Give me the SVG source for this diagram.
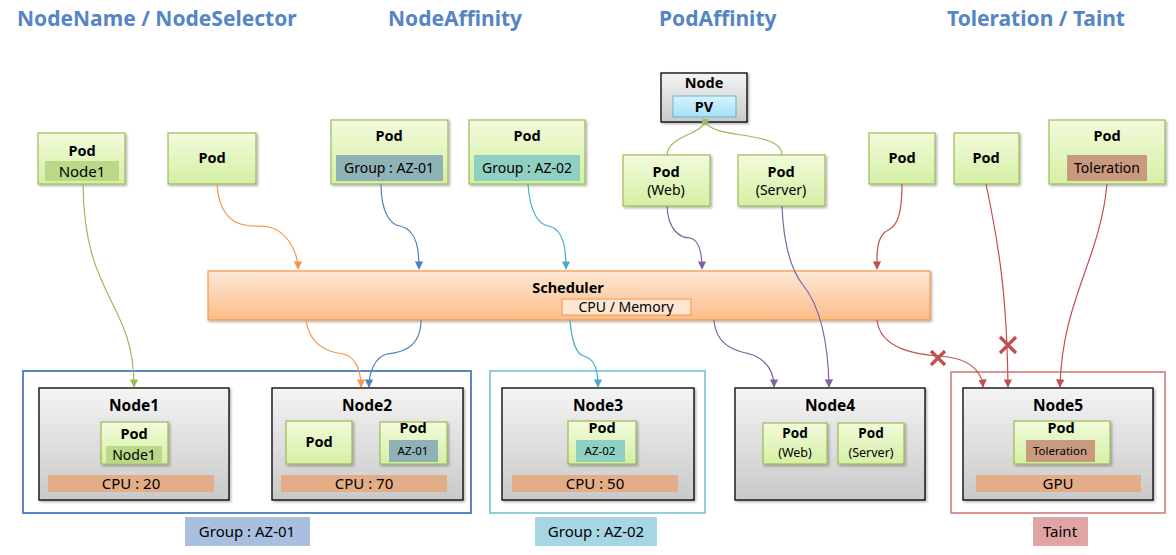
<svg xmlns="http://www.w3.org/2000/svg" width="1176" height="555" viewBox="0 0 1176 555">
<defs>
<linearGradient id="gPod" x1="0" y1="0" x2="0" y2="1"><stop offset="0" stop-color="#f2fbdc"/><stop offset="1" stop-color="#d5efa3"/></linearGradient>
<linearGradient id="gNode" x1="0" y1="0" x2="0" y2="1"><stop offset="0" stop-color="#f4f4f4"/><stop offset="1" stop-color="#c9c9c9"/></linearGradient>
<linearGradient id="gSch" x1="0" y1="0" x2="0" y2="1"><stop offset="0" stop-color="#fde8d6"/><stop offset="1" stop-color="#fbbd88"/></linearGradient>
<linearGradient id="gPV" x1="0" y1="0" x2="0" y2="1"><stop offset="0" stop-color="#d8f3fc"/><stop offset="1" stop-color="#a6e0f5"/></linearGradient>
<filter id="sh" x="-10%" y="-10%" width="130%" height="130%"><feDropShadow dx="1.5" dy="1.5" stdDeviation="1.2" flood-color="#000" flood-opacity="0.3"/></filter>
<marker id="aG" viewBox="0 0 10 10" refX="9" refY="5" markerWidth="7" markerHeight="7" orient="auto"><path d="M0,0 L10,5 L0,10 z" fill="#9bbb59"/></marker>
<marker id="aO" viewBox="0 0 10 10" refX="9" refY="5" markerWidth="7" markerHeight="7" orient="auto"><path d="M0,0 L10,5 L0,10 z" fill="#f79646"/></marker>
<marker id="aB" viewBox="0 0 10 10" refX="9" refY="5" markerWidth="7" markerHeight="7" orient="auto"><path d="M0,0 L10,5 L0,10 z" fill="#4f81bd"/></marker>
<marker id="aT" viewBox="0 0 10 10" refX="9" refY="5" markerWidth="7" markerHeight="7" orient="auto"><path d="M0,0 L10,5 L0,10 z" fill="#4bacc6"/></marker>
<marker id="aP" viewBox="0 0 10 10" refX="9" refY="5" markerWidth="7" markerHeight="7" orient="auto"><path d="M0,0 L10,5 L0,10 z" fill="#8064a2"/></marker>
<marker id="aR" viewBox="0 0 10 10" refX="9" refY="5" markerWidth="7" markerHeight="7" orient="auto"><path d="M0,0 L10,5 L0,10 z" fill="#c0504d"/></marker>
<marker id="dot" viewBox="0 0 10 10" refX="5" refY="5" markerWidth="6" markerHeight="6"><circle cx="5" cy="5" r="4.5" fill="#9bbb59"/></marker>
</defs>
<style>
text{font-family:"Noto Sans","Open Sans","Liberation Sans",sans-serif;fill:#000;text-anchor:middle}
.title{font-size:21px;font-weight:bold;fill:#5585c5;text-anchor:start}
.pod{fill:url(#gPod);stroke:#9bbb59;stroke-width:1.2;filter:url(#sh)}
.node{fill:url(#gNode);stroke:#000;stroke-width:1.3;filter:url(#sh)}
.b{font-weight:bold;font-size:14.5px}
.b2{font-weight:bold;font-size:13.5px}
.nt{font-weight:bold;font-size:15.5px}
.s{font-size:14px}
.s2{font-size:12.5px}
.m{font-size:15px}
.xs{font-size:11.5px}
.cpu{fill:#e3ad88}
.c{fill:none;stroke-width:1.2}
.x{stroke:#c0504d;stroke-width:3.2;fill:none}
</style>
<g id="titles">
<text class="title" x="17" y="26">NodeName / NodeSelector</text>
<text class="title" x="388" y="26">NodeAffinity</text>
<text class="title" x="659" y="26">PodAffinity</text>
<text class="title" x="947" y="26">Toleration / Taint</text>
</g>
<g id="group-az01"><rect x="23" y="371" width="448" height="142" fill="none" stroke="#5b87c4" stroke-width="2"/><rect x="185" y="517" width="125" height="29" fill="#a8bfdf"/><text class="m" x="247" y="537">Group : AZ-01</text></g>
<g id="group-az02"><rect x="490" y="371" width="215" height="142" fill="none" stroke="#93cddd" stroke-width="2"/><rect x="535" y="517" width="122" height="29" fill="#a6d6e4"/><text class="m" x="596" y="537">Group : AZ-02</text></g>
<g id="group-taint"><rect x="951" y="372" width="214" height="141" fill="none" stroke="#d99694" stroke-width="2"/><rect x="1033" y="517" width="55" height="29" fill="#e0a4a4"/><text class="m" x="1060" y="537">Taint</text></g>
<g id="pod-node1"><rect class="pod" x="38" y="133" width="87" height="51"/><text class="b" x="82" y="156">Pod</text><rect x="45" y="161" width="74" height="20" fill="#b9d888"/><text class="m" x="82" y="177">Node1</text></g>
<g id="pod-plain"><rect class="pod" x="168" y="133" width="88" height="51"/><text class="b" x="212" y="163">Pod</text></g>
<g id="pod-az01"><rect class="pod" x="331" y="120" width="117" height="64"/><text class="b" x="389" y="141">Pod</text><rect x="336" y="155" width="107" height="26" fill="#8fb2b6"/><text class="s" x="389" y="173">Group : AZ-01</text></g>
<g id="pod-az02"><rect class="pod" x="469" y="120" width="116" height="64"/><text class="b" x="527" y="141">Pod</text><rect x="474" y="155" width="106" height="26" fill="#90d0c3"/><text class="s" x="527" y="173">Group : AZ-02</text></g>
<g id="node-pv"><rect class="node" x="661" y="73" width="86" height="49"/><text class="b" x="704" y="88">Node</text><rect x="673" y="96" width="63" height="21" fill="url(#gPV)" stroke="#62b5d6" stroke-width="1"/><text class="b" x="704" y="112">PV</text></g>
<g id="pod-web"><rect class="pod" x="623" y="155" width="87" height="51"/><text class="b" x="666" y="177">Pod</text><text class="s" x="666" y="195">(Web)</text></g>
<g id="pod-server"><rect class="pod" x="738" y="155" width="87" height="51"/><text class="b" x="781" y="177">Pod</text><text class="s" x="781" y="195">(Server)</text></g>
<g id="pod-r1"><rect class="pod" x="869" y="133" width="66" height="51"/><text class="b" x="902" y="163">Pod</text></g>
<g id="pod-r2"><rect class="pod" x="954" y="133" width="65" height="51"/><text class="b" x="986" y="163">Pod</text></g>
<g id="pod-toleration"><rect class="pod" x="1049" y="120" width="116" height="64"/><text class="b" x="1107" y="141">Pod</text><rect x="1067" y="155" width="80" height="26" fill="#ca9a7e"/><text class="s" x="1107" y="173">Toleration</text></g>
<g id="scheduler"><rect x="208" y="271" width="722" height="49" fill="url(#gSch)" stroke="#f79646" stroke-width="1.2" filter="url(#sh)"/><text class="b" x="568" y="293">Scheduler</text><rect x="562" y="299" width="129" height="16" fill="#fde6d2" stroke="#f79646" stroke-width="1"/><text class="s" x="626" y="312">CPU / Memory</text></g>
<g id="node1"><rect class="node" x="39" y="388" width="190" height="112"/><text class="nt" x="134" y="411">Node1</text><rect class="pod" x="101" y="422" width="67" height="42"/><text class="b" x="134" y="439">Pod</text><rect x="106" y="446" width="56" height="17" fill="#b9d888"/><text class="s" x="134" y="460">Node1</text><rect class="cpu" x="48" y="475" width="166" height="17"/><text class="m" x="131" y="489">CPU : 20</text></g>
<g id="node2"><rect class="node" x="272" y="388" width="191" height="112"/><text class="nt" x="367" y="411">Node2</text><rect class="pod" x="286" y="421" width="66" height="43"/><text class="b" x="319" y="447">Pod</text><rect class="pod" x="380" y="422" width="67" height="42"/><text class="b" x="413" y="433">Pod</text><rect x="389" y="440" width="49" height="22" fill="#8fb2b6"/><text class="xs" x="413" y="455">AZ-01</text><rect class="cpu" x="281" y="475" width="166" height="17"/><text class="m" x="364" y="489">CPU : 70</text></g>
<g id="node3"><rect class="node" x="502" y="388" width="192" height="112"/><text class="nt" x="598" y="411">Node3</text><rect class="pod" x="568" y="421" width="68" height="43"/><text class="b" x="602" y="433">Pod</text><rect x="576" y="440" width="49" height="22" fill="#90d0c3"/><text class="xs" x="600" y="455">AZ-02</text><rect class="cpu" x="512" y="475" width="166" height="17"/><text class="m" x="595" y="489">CPU : 50</text></g>
<g id="node4"><rect class="node" x="735" y="388" width="190" height="112"/><text class="nt" x="830" y="411">Node4</text><rect class="pod" x="763" y="423" width="64" height="41"/><text class="b2" x="795" y="438">Pod</text><text class="s2" x="795" y="457">(Web)</text><rect class="pod" x="838" y="423" width="66" height="41"/><text class="b2" x="871" y="438">Pod</text><text class="s2" x="871" y="457">(Server)</text></g>
<g id="node5"><rect class="node" x="963" y="388" width="190" height="112"/><text class="nt" x="1058" y="411">Node5</text><rect class="pod" x="1014" y="421" width="96" height="43"/><text class="b" x="1061" y="433">Pod</text><rect x="1026" y="440" width="69" height="22" fill="#ca9a7e"/><text class="xs" x="1060" y="455">Toleration</text><rect class="cpu" x="976" y="475" width="165" height="17"/><text class="m" x="1058" y="489">GPU</text></g>
<g id="connectors">
<path class="c" stroke="#9bbb59" d="M705,122 C700,135 668,136 667,155" marker-start="url(#dot)"/>
<path class="c" stroke="#9bbb59" d="M705,122 C715,140 782,130 782,155"/>
<path class="c" stroke="#9bbb59" d="M83,184 C84,300 134,300 134,387" marker-end="url(#aG)"/>
<path class="c" stroke="#f79646" d="M217,184 C220,230 250,226 262,226 C285,227 298,250 298,269" marker-end="url(#aO)"/>
<path class="c" stroke="#4f81bd" d="M381,184 C381,215 392,225 400,226 C418,230 419,252 419,269" marker-end="url(#aB)"/>
<path class="c" stroke="#4bacc6" d="M528,184 C530,215 540,225 549,226 C565,230 566,252 566,269" marker-end="url(#aT)"/>
<path class="c" stroke="#8064a2" d="M667,206 C668,230 680,238 690,238 C700,240 702,255 702,269" marker-end="url(#aP)"/>
<path class="c" stroke="#c0504d" d="M902,184 C902,230 890,228 885,232 C876,240 877,255 877,269" marker-end="url(#aR)"/>
<path class="c" stroke="#f79646" d="M306,320 C310,350 335,353 343,354 C355,356 361,370 361,387" marker-end="url(#aO)"/>
<path class="c" stroke="#4f81bd" d="M421,320 C421,352 395,353 387,354 C375,357 369,372 369,387" marker-end="url(#aB)"/>
<path class="c" stroke="#4bacc6" d="M570,320 C572,345 578,355 584,356 C596,360 598,372 598,387" marker-end="url(#aT)"/>
<path class="c" stroke="#8064a2" d="M714,320 C716,348 740,352 750,354 C768,360 774,372 774,387" marker-end="url(#aP)"/>
<path class="c" stroke="#8064a2" d="M782,206 C784,255 795,275 803,285 C815,300 828,330 829,387" marker-end="url(#aP)"/>
<path class="c" stroke="#c0504d" d="M877,320 C880,350 920,355 940,356 C968,358 982,370 983,387" marker-end="url(#aR)"/>
<path class="c" stroke="#c0504d" d="M986,184 C1000,250 1007,300 1008,387" marker-end="url(#aR)"/>
<path class="c" stroke="#c0504d" d="M1107,184 C1100,260 1062,300 1060,387" marker-end="url(#aR)"/>
<path class="x" d="M931,351 L945,365 M945,351 L931,365"/>
<path class="x" d="M1000,337 L1016,353 M1016,337 L1000,353"/>
</g>
</svg>
